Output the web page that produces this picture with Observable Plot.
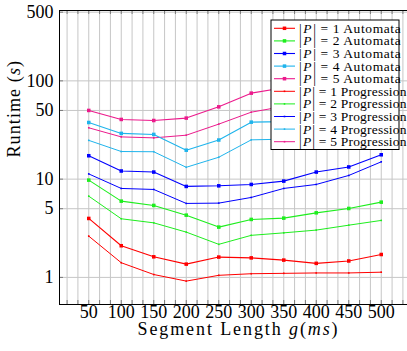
<!DOCTYPE html>
<html>
<head>
<meta charset="utf-8">
<script src="https://cdn.jsdelivr.net/npm/d3@7"></script>
<script src="https://cdn.jsdelivr.net/npm/@observablehq/plot@0.6"></script>
<style>
  html, body { margin: 0; padding: 0; background: #fff; }
  svg { display: block; }
</style>
</head>
<body>
<div id="chart"></div>
<script>
// ---- data ----
const segmentLengths = [50, 100, 150, 200, 250, 300, 350, 400, 450, 500];

const auto1 = [3.98, 2.10, 1.62, 1.365, 1.61, 1.58, 1.50, 1.39, 1.47, 1.71];
const auto2 = [9.77, 5.97, 5.40, 4.30, 3.25, 3.89, 4.01, 4.54, 5.03, 5.83];
const auto3 = [17.3, 12.1, 11.8, 8.43, 8.55, 8.83, 9.55, 11.8, 13.3, 17.7];
const auto4 = [37.7, 29.2, 28.5, 19.7, 25.0, 38.0, 38.5, 42, 47, 60];
const auto5 = [50.0, 40.5, 39.5, 41.8, 54.4, 75.0, 85, 95, 110, 140];

const prog1 = [2.63, 1.41, 1.07, 0.917, 1.05, 1.09, 1.10, 1.11, 1.11, 1.13];
const prog2 = [6.71, 3.95, 3.59, 2.89, 2.17, 2.68, 2.84, 3.03, 3.40, 3.80];
const prog3 = [11.3, 8.04, 7.85, 5.66, 5.70, 6.51, 8.04, 8.83, 10.9, 15.0];
const prog4 = [24.8, 19.1, 19.0, 13.2, 16.7, 25.1, 25.5, 28, 32, 40];
const prog5 = [33.3, 26.9, 26.3, 28.0, 36.3, 48.0, 55, 62, 72, 95];

const seriesColors = ["#ff0000", "#1eee1e", "#0000ff", "#1fb4ec", "#ec1a8c"];
const automataSeries = [auto1, auto2, auto3, auto4, auto5];
const progressionSeries = [prog1, prog2, prog3, prog4, prog5];
const yTickValues = [1, 5, 10, 50, 100, 500];
const xTickLabels = segmentLengths;
// grid / minor ticks: 2 minor ticks between each labelled tick
const xGridTicks = d3.range(1, 33).map(k => k * 50 / 3);

// ---- rows ----
const rows = [];
const names = [];
automataSeries.forEach((vals, s) => {
  const name = `A${s + 1}`; names.push(name);
  vals.forEach((v, i) => rows.push({x: segmentLengths[i], y: v, series: name, kind: "automata"}));
});
progressionSeries.forEach((vals, s) => {
  const name = `P${s + 1}`; names.push(name);
  vals.forEach((v, i) => rows.push({x: segmentLengths[i], y: v, series: name, kind: "progression"}));
});
const colorRange = seriesColors.concat(seriesColors);
const autoRows = rows.filter(d => d.kind === "automata");
const progRows = rows.filter(d => d.kind === "progression");

const W = 407, H = 351, mL = 59, mR = -3, mT = 10, mB = 47;
const frameW = W - mL - mR, frameH = H - mT - mB;
const font = "Liberation Serif";

const svg = Plot.plot({
  width: W, height: H,
  marginLeft: mL, marginRight: mR, marginTop: mT, marginBottom: mB,
  style: {fontFamily: font, fontSize: "17px", background: "#fff", color: "#000"},
  x: {domain: [5, 545], axis: null},
  y: {type: "log", domain: [0.53, 520], axis: null},
  color: {domain: names, range: colorRange},
  marks: [
    Plot.ruleX(xGridTicks, {stroke: "#c6c6c6", strokeWidth: 1}),
    Plot.ruleY(yTickValues, {stroke: "#c6c6c6", strokeWidth: 1}),
    Plot.tickX(xGridTicks, {x: d => d, stroke: "#666", strokeWidth: 0.8, insetTop: frameH - 4}),
    Plot.tickX(xGridTicks, {x: d => d, stroke: "#666", strokeWidth: 0.8, insetBottom: frameH - 4}),
    Plot.tickY(yTickValues, {y: d => d, stroke: "#666", strokeWidth: 0.8, insetRight: frameW - 4}),
    Plot.line(progRows, {x: "x", y: "y", z: "series", stroke: "series", strokeWidth: 1}),
    Plot.dot(progRows, {x: "x", y: "y", fill: "series", symbol: "square", r: 0.9, stroke: null}),
    Plot.line(autoRows, {x: "x", y: "y", z: "series", stroke: "series", strokeWidth: 1.1}),
    Plot.dot(autoRows, {x: "x", y: "y", fill: "series", symbol: "square", r: 2, stroke: null}),
    Plot.frame({stroke: "#000", strokeWidth: 1}),
    Plot.text(xTickLabels, {x: d => d, text: d => String(d), frameAnchor: "bottom", dy: 13,
      fontFamily: font, fontSize: 18, fill: "#000"}),
    Plot.text(yTickValues, {y: d => d, text: d => String(d), frameAnchor: "left", textAnchor: "end", dx: -6,
      fontFamily: font, fontSize: 18, fill: "#000"}),
    Plot.text(["Segment Length g(ms)"], {frameAnchor: "bottom", dy: 30.5, dx: 3.5, fontSize: 18,
      fontFamily: font, fill: "#000", className: "xlabel"}),
    Plot.text(["Runtime (s)"], {frameAnchor: "left", rotate: -90, dx: -45, fontSize: 18,
      fontFamily: font, fill: "#000", className: "ylabel"})
  ]
});

function richText(sel, parts, spacing) {
  sel.each(function() {
    const t = d3.select(this);
    t.text(null);
    if (spacing) t.attr("letter-spacing", spacing);
    parts.forEach(([s, it]) => {
      const ts = t.append("tspan").text(s);
      if (it) ts.attr("font-style", "italic");
    });
  });
}
richText(d3.select(svg).selectAll(".xlabel text"),
  [["Segment Length ", false], ["g", true], ["(", false], ["ms", true], [")", false]], 1.9);
richText(d3.select(svg).selectAll(".ylabel text"),
  [["Runtime (", false], ["s", true], [")", false]], 1.1);

// ---- legend ----
const legendLabels = [];
for (let i = 1; i <= 5; i++) legendLabels.push({n: i, t: "Automata", c: seriesColors[i - 1], big: true});
for (let i = 1; i <= 5; i++) legendLabels.push({n: i, t: "Progression", c: seriesColors[i - 1], big: false});
const lg = d3.select(svg).append("g").attr("font-family", font).attr("text-anchor", "start");
lg.append("rect").attr("x", 271).attr("y", 20).attr("width", 128).attr("height", 129.5)
  .attr("fill", "#fff").attr("stroke", "#000").attr("stroke-width", 1);
legendLabels.forEach((d, i) => {
  const cy = 28.3 + i * 12.6;
  lg.append("line").attr("x1", 274).attr("x2", 295).attr("y1", cy).attr("y2", cy)
    .attr("stroke", d.c).attr("stroke-width", d.big ? 1.1 : 1);
  const s = d.big ? 3.5 : 1.6;
  lg.append("rect").attr("x", 284.5 - s / 2).attr("y", cy - s / 2).attr("width", s).attr("height", s).attr("fill", d.c);
  const t = lg.append("text").attr("x", 299).attr("y", cy + 4.5).attr("font-size", 13.5)
    .attr("text-anchor", "start").attr("fill", "#000").attr("letter-spacing", d.big ? 0.6 : 0.2);
  t.append("tspan").text("|");
  t.append("tspan").text("P").attr("font-style", "italic").attr("dx", 1);
  t.append("tspan").text("|").attr("dx", 1);
  t.append("tspan").text(` = ${d.n} ${d.t}`);
});

document.getElementById("chart").appendChild(svg);
</script>
</body>
</html>
